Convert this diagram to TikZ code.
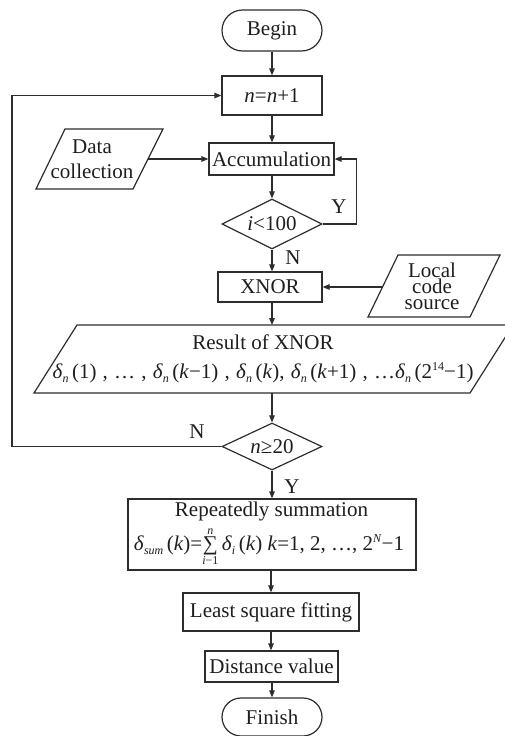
\documentclass[tikz,border=0pt]{standalone}
\usepackage{fontspec}
\setmainfont{Liberation Serif}
\usetikzlibrary{shapes.geometric,shapes.misc,arrows.meta}
\newcommand\sbs[1]{\raisebox{-0.35ex}{\fontsize{12}{12}\selectfont\itshape #1}}
\newcommand\sps[1]{\raisebox{0.85ex}{\fontsize{12}{12}\selectfont #1}}
\newcommand\mysum{\ensuremath{\mathop{\mbox{∑}}\limits_{\mbox{\fontsize{12}{12}\selectfont\textit{i}−1}}^{\mbox{\fontsize{12}{12}\selectfont\textit{n}}}}}
\definecolor{ln}{RGB}{45,45,45}
\definecolor{tx}{RGB}{30,30,30}
\tikzset{
  every node/.style={font=\fontsize{21}{25}\selectfont, text=tx},
  boxnode/.style={draw=ln, line width=1.2pt, rectangle, inner sep=0pt},
  term/.style={draw=ln, line width=1.2pt, rounded rectangle, inner sep=0pt, minimum width=100pt},
  dia/.style={draw=ln, line width=1.2pt, diamond, aspect=2, inner sep=0pt},
  para/.style={draw=ln, line width=1.2pt, line join=miter},
  txt/.style={inner sep=0pt, align=center},
  lbl/.style={inner sep=0pt},
  arr/.style={draw=ln, line width=1.2pt, -{Triangle[length=7pt,width=5.5pt]}},
  ln/.style={draw=ln, line width=1.2pt}
}
\begin{document}
\begin{tikzpicture}[x=1pt,y=-1pt]
\useasboundingbox (0,0) rectangle (505,736);
\clip (0,0) rectangle (505,736);
% nodes
\node[term, minimum height=41pt] (begin) at (272,30.5) {Begin};
\node[boxnode, minimum width=100pt, minimum height=39pt] (inc) at (272,95.5) {\textit{n}=\textit{n}+1};
\node[boxnode, minimum width=125pt, minimum height=32pt] (acc) at (271.5,159) {Accumulation};
\node[dia, minimum width=100pt, minimum height=50pt] (q1) at (272,224) {\textit{i}<100};
\node[boxnode, minimum width=104pt, minimum height=30pt] (xnor) at (270,287) {XNOR};
\node[dia, minimum width=100pt, minimum height=47pt] (q2) at (272,446.5) {\textit{n}≥20};
\node[boxnode, minimum width=288pt, minimum height=71pt] (sum) at (272,534.5) {};
\node[boxnode, minimum width=176pt, minimum height=38pt] (lsf) at (271,612) {Least square fitting};
\node[boxnode, minimum width=133pt, minimum height=31pt] (dist) at (271.5,666.5) {Distance value};
\node[term, minimum height=38pt] (finish) at (272,717) {Finish};
% parallelograms
\draw[para] (65,129) -- (163,129) -- (133,189) -- (36,189) -- cycle;
\node[txt] (dc) at (92,159) {Data\\collection};
\coordinate (dcE) at (148,159);
\draw[para] (398,255) -- (500,255) -- (470,317) -- (368,317) -- cycle;
\node[txt, font=\fontsize{21}{16}\selectfont] (lc) at (432,286) {Local\\code\\source};
\coordinate (lcW) at (383,287);
\draw[para] (77,325) -- (513,325) -- (470,393) -- (34,393) -- cycle;
\node[txt, font=\fontsize{21}{29}\selectfont] (res) at (263,359) {Result of XNOR\\\makebox[421pt][s]{\textit{δ}\sbs{n}\,(1) , … , \textit{δ}\sbs{n}\,(\textit{k}−1) , \textit{δ}\sbs{n}\,(\textit{k}), \textit{δ}\sbs{n}\,(\textit{k}+1) , …\textit{δ}\sbs{n}\,(2\sps{14}−1)}};
\coordinate (resN) at (272,325);
\coordinate (resS) at (272,393);
% summation text
\node[txt] (sumA) at (271.5,511) {Repeatedly summation};
\node[txt] (sumB) at (269,547) {\textit{δ}\sbs{sum}\,(\textit{k})=\mysum\,\textit{δ}\sbs{i}\,(\textit{k}) \textit{k}=1, 2, …, 2\sps{\textit{N}}−1};
% connectors
\coordinate (loopx) at (12,0);
\draw[arr] (begin.south) -- (begin.south |- inc.north);
\draw[arr] (inc.south) -- (inc.south |- acc.north);
\draw[arr] (dcE) -- (dcE -| acc.west);
\draw[arr] (acc.south -| q1.north) -- (q1.north);
\draw[arr] (q1.east) -- ++(34,0) |- (acc.east);
\node[lbl] (ylab1) at (339,207) {Y};
\draw[arr] (q1.south) -- (q1.south |- xnor.north);
\node[lbl] (nlab1) at (293,258) {N};
\draw[arr] (lcW) -- (lcW -| xnor.east);
\draw[arr] (xnor.south -| resN) -- (resN);
\draw[arr] (resS) -- (q2.north);
\draw[arr] (q2.west) -- (q2.west -| loopx) |- (inc.west);
\node[lbl] (nlab2) at (197,432) {N};
\draw[arr] (q2.south) -- (q2.south |- sum.north);
\node[lbl] (ylab2) at (292,487) {Y};
\draw[arr] (sum.south -| lsf.north) -- (lsf.north);
\draw[arr] (lsf.south) -- (lsf.south |- dist.north);
\draw[arr] (dist.south -| finish.north) -- (finish.north);
\end{tikzpicture}
\end{document}
